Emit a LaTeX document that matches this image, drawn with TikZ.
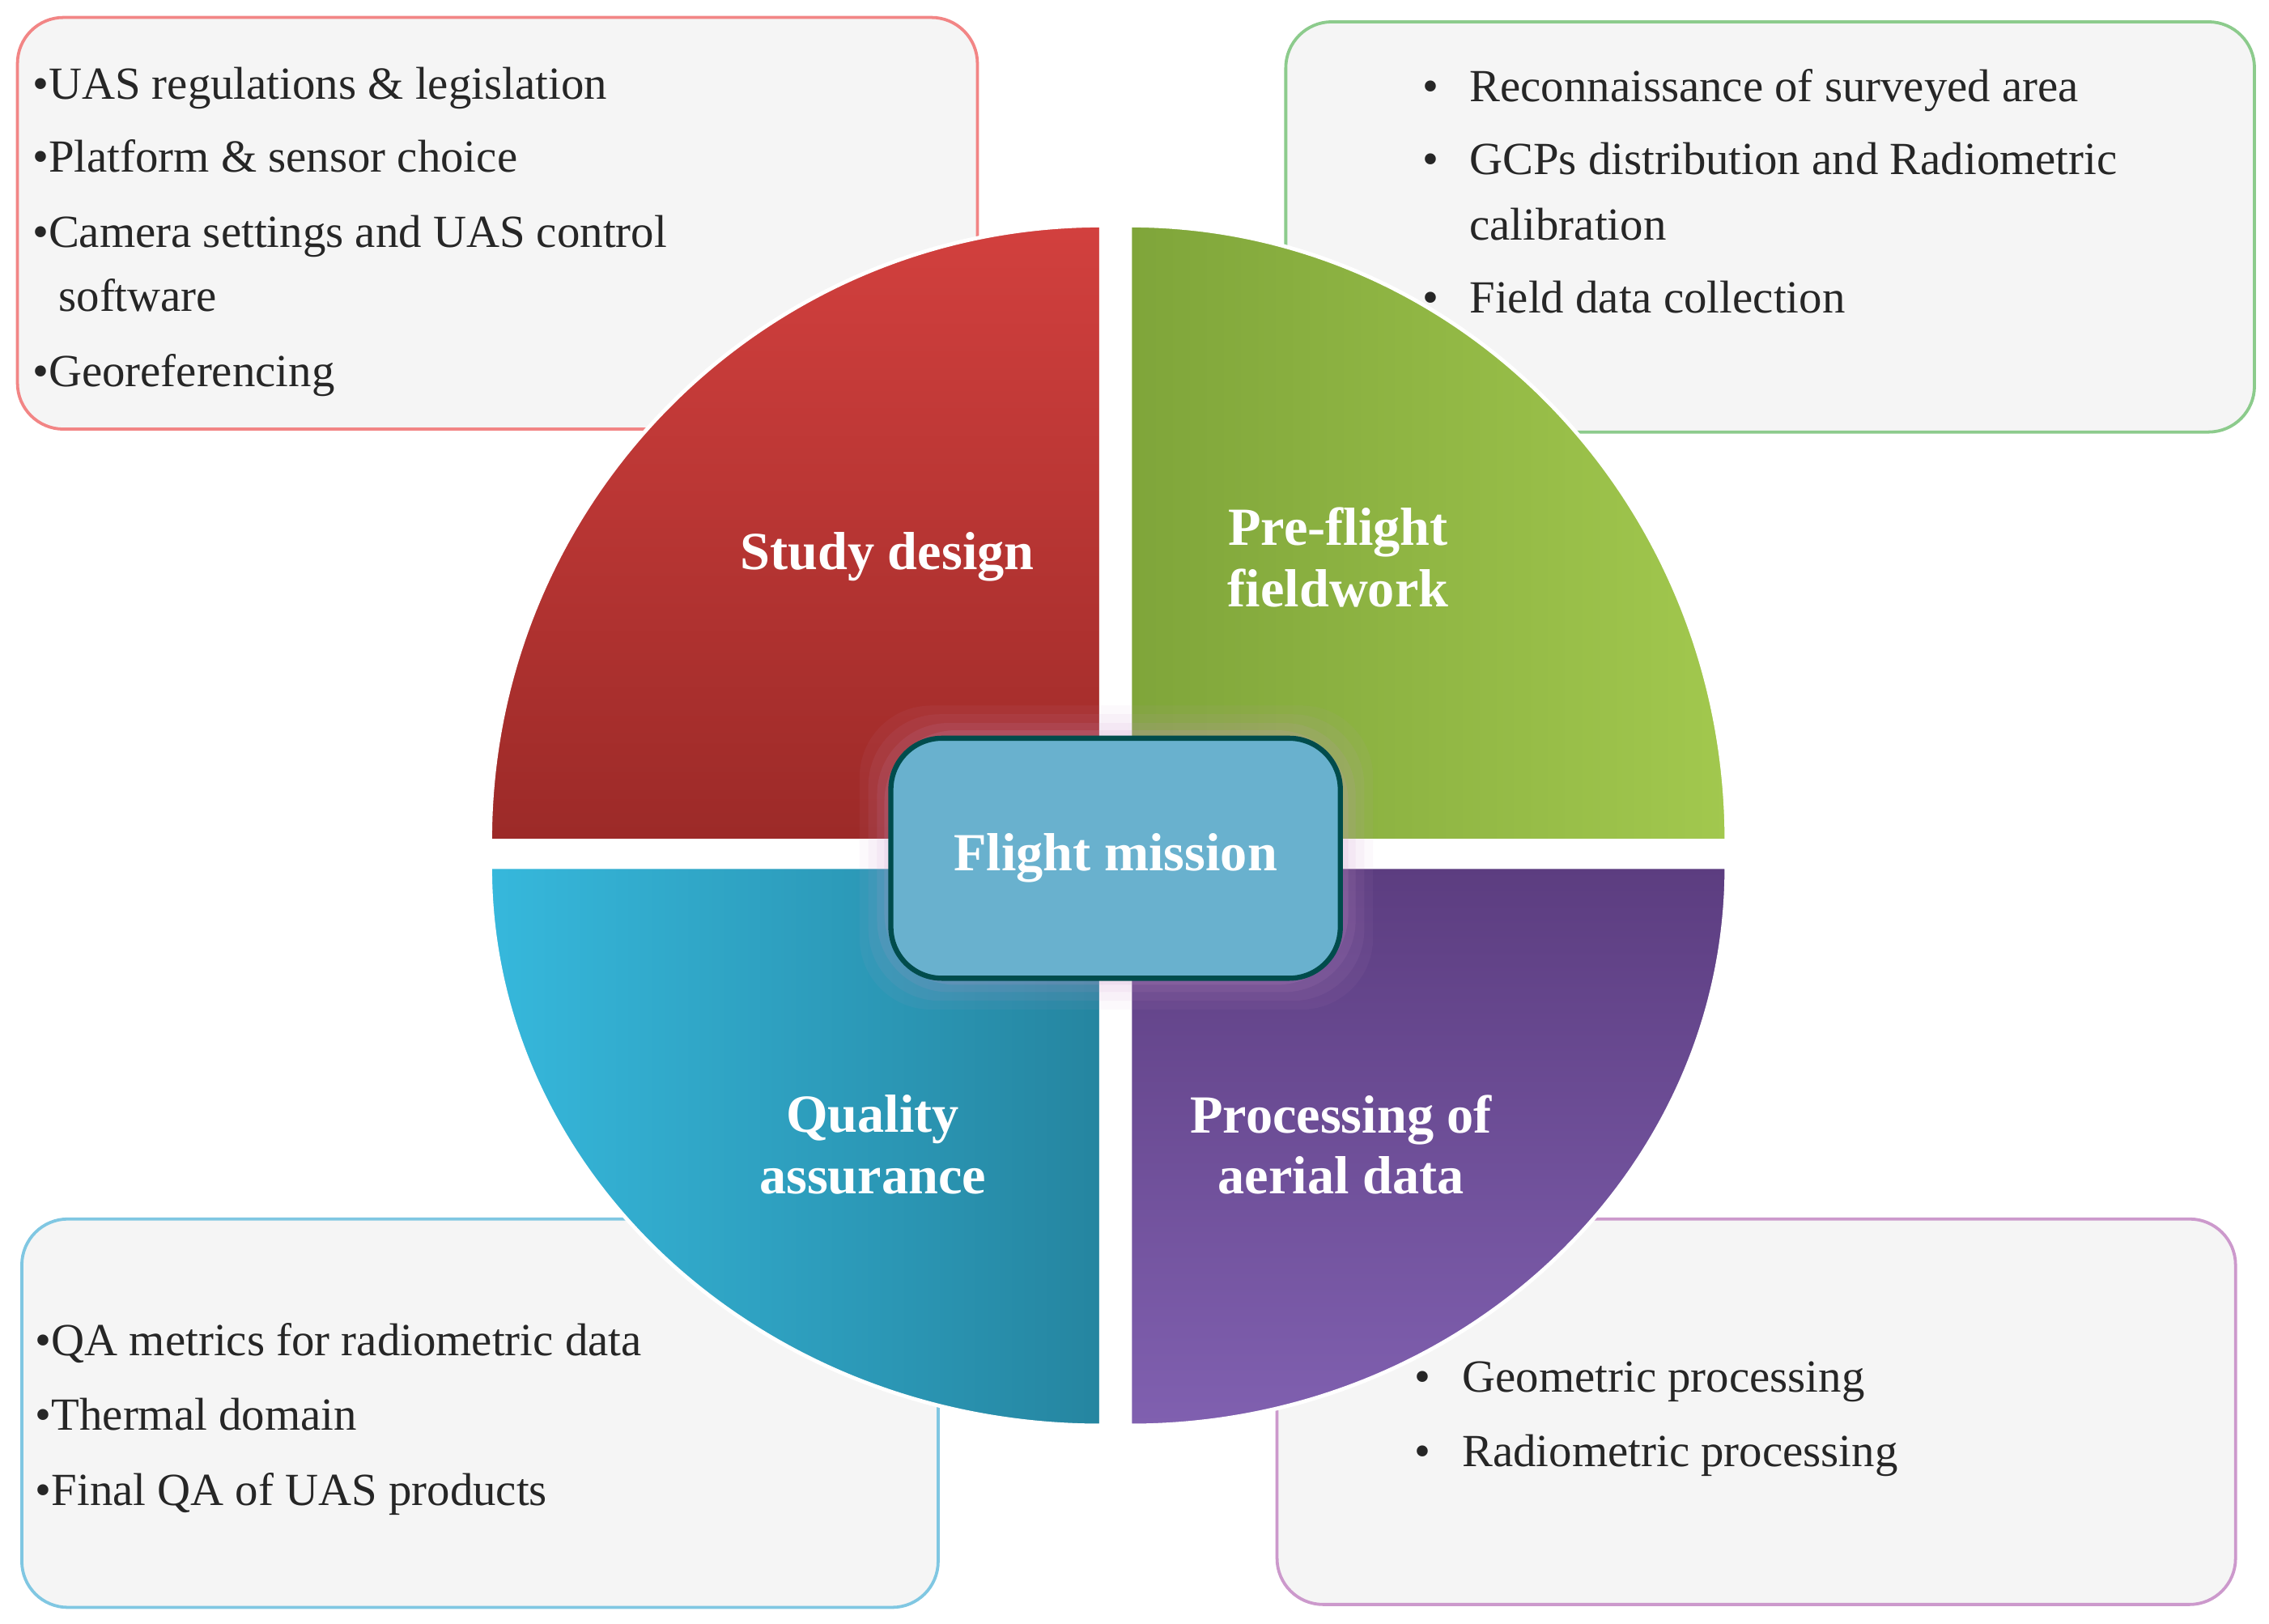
\documentclass[tikz,border=0pt]{standalone}
\usepackage{fontspec}
\setmainfont{Liberation Serif}
\begin{document}
\begin{tikzpicture}[x=0.02cm,y=-0.02cm,
  box/.style={rounded corners=18pt,fill=black!4,line width=1.2pt},
  txt/.style={anchor=base west,font=\fontsize{18}{20}\selectfont,text=black!85,inner sep=0},
  lab/.style={font=\bfseries\fontsize{21}{24}\selectfont,text=white,align=center},
  quad/.style={draw=white,line width=1.5pt}]
\useasboundingbox (0,0) rectangle (1560,1116);
% text boxes
\draw[box,draw=red!45!white!95!black] (12,12) rectangle (672,295);
\draw[box,draw=green!55!black!45!white] (884,15) rectangle (1550,297);
\draw[box,draw=cyan!50!white!90!black] (15,838) rectangle (645,1105);
\draw[box,draw=violet!40!white] (878,838) rectangle (1537,1103);
% quadrants
\definecolor{rt}{HTML}{D2403E}\definecolor{rb}{HTML}{9C2A28}
\definecolor{gt}{HTML}{7FA53A}\definecolor{gb}{HTML}{A2C84E}
\definecolor{ct}{HTML}{36B8DC}\definecolor{cb}{HTML}{2585A0}
\definecolor{pt}{HTML}{5C3D80}\definecolor{pb}{HTML}{8060B0}
\path[quad,top color=rt,bottom color=rb] (757,578) -- (337,578) arc[start angle=180,end angle=270,x radius=420,y radius=423] -- cycle;
\path[quad,left color=gt,right color=gb] (777,578) -- (1187,578) arc[start angle=0,end angle=-90,x radius=410,y radius=423] -- cycle;
\path[quad,left color=ct,right color=cb] (757,596) -- (337,596) arc[start angle=180,end angle=90,x radius=420,y radius=384] -- cycle;
\path[quad,top color=pt,bottom color=pb] (777,596) -- (1187,596) arc[start angle=0,end angle=90,x radius=410,y radius=384] -- cycle;
% center glow + box
\foreach \i/\o in {22/0.06,16/0.08,10/0.1,5/0.14}
  \fill[violet!40!white,opacity=\o,rounded corners=28pt] (613-\i,507-\i) rectangle (922+\i,672+\i);
\node[draw=teal!60!black,line width=2pt,fill=cyan!45!teal!70!white,rounded corners=20pt,minimum width=309*0.02cm,minimum height=165*0.02cm,font=\bfseries\fontsize{21}{24}\selectfont,text=white] (fm) at (767,590) {Flight mission};
% labels
\node[lab] (sd) at (610,383) {Study design};
\node[lab] (pf) at (920,383) {Pre-flight\\fieldwork};
\node[lab] (qa) at (600,787) {Quality\\assurance};
\node[lab] (pa) at (922,787) {Processing of\\aerial data};
% TL text
\node[txt] (a1) at (22,68) {\textbullet UAS regulations \& legislation};
\node[txt] (a2) at (22,118) {\textbullet Platform \& sensor choice};
\node[txt] (a3) at (22,170) {\textbullet Camera settings and UAS control};
\node[txt] (a4) at (40,214) {software};
\node[txt] (a5) at (22,266) {\textbullet Georeferencing};
% TR text
\node[txt] (b0) at (978,70) {\textbullet};
\node[txt] (b1) at (1010,70) {Reconnaissance of surveyed area};
\node[txt] (bb) at (978,120) {\textbullet};
\node[txt] (b2) at (1010,120) {GCPs distribution and Radiometric};
\node[txt] (b3) at (1010,165) {calibration};
\node[txt] (bc) at (978,215) {\textbullet};
\node[txt] (b4) at (1010,215) {Field data collection};
% BL text
\node[txt] (c1) at (24,932) {\textbullet QA metrics for radiometric data};
\node[txt] (c2) at (24,983) {\textbullet Thermal domain};
\node[txt] (c3) at (24,1035) {\textbullet Final QA of UAS products};
% BR text
\node[txt] (d0) at (972,957) {\textbullet};
\node[txt] (d1) at (1005,957) {Geometric processing};
\node[txt] (dd) at (972,1008) {\textbullet};
\node[txt] (d2) at (1005,1008) {Radiometric processing};
\end{tikzpicture}
\end{document}
